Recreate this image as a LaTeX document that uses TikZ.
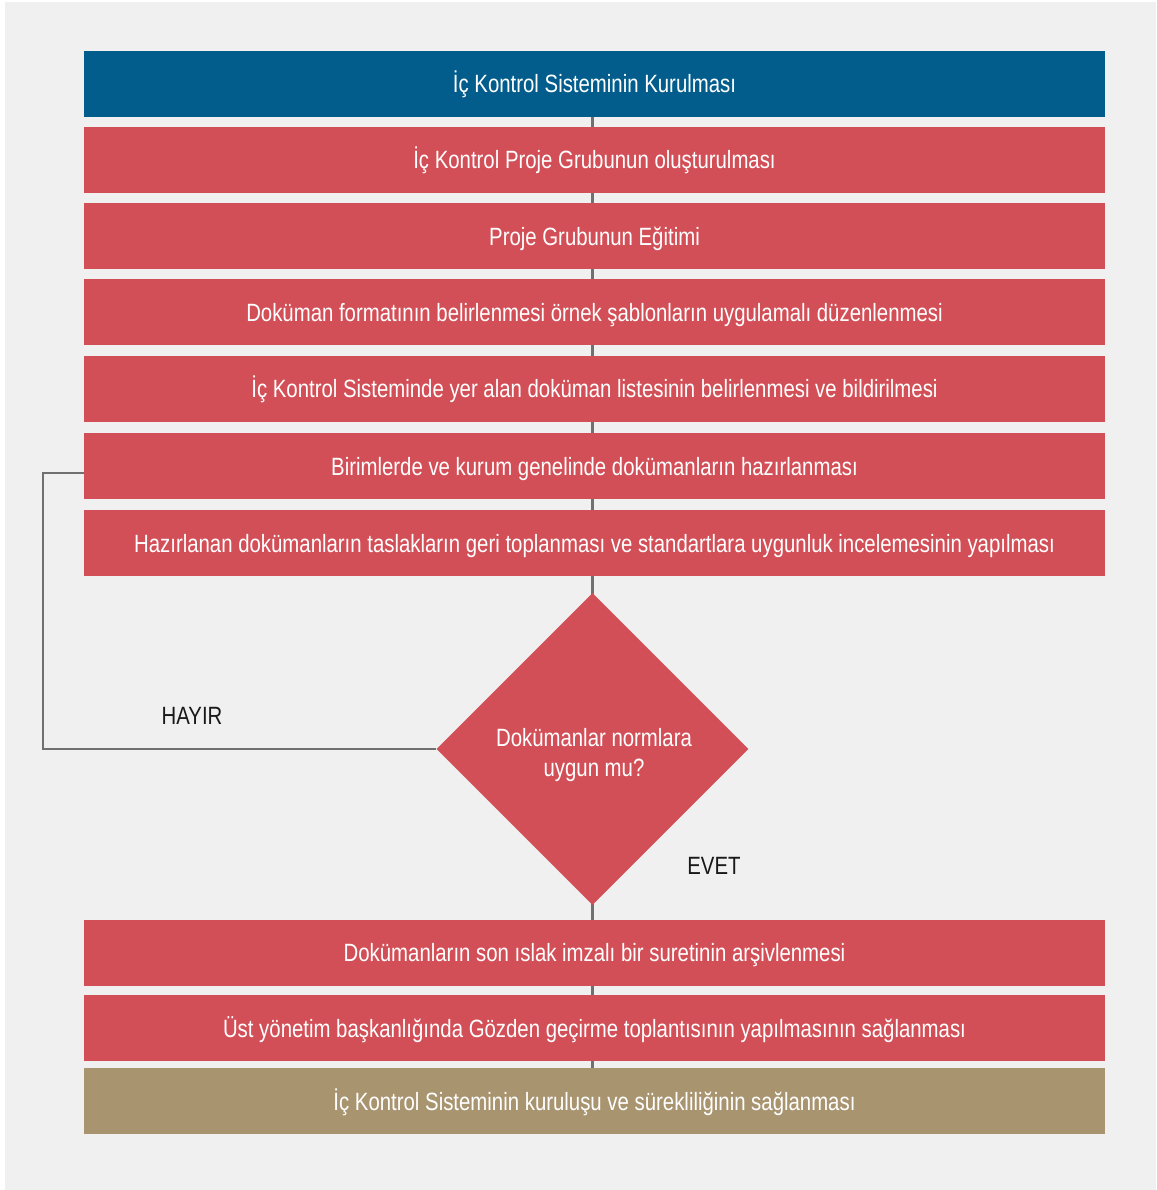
\documentclass[tikz,border=0pt]{standalone}
\usepackage{fontspec}
\setmainfont[FakeStretch=0.815]{Liberation Sans}
\usetikzlibrary{shapes.geometric}
\definecolor{panel}{HTML}{F0F0F0}
\definecolor{navy}{HTML}{025D8C}
\definecolor{brick}{HTML}{D34F57}
\definecolor{sand}{HTML}{A99470}
\definecolor{wire}{HTML}{707070}
\begin{document}
\begin{tikzpicture}[x=1pt,y=-1pt,
  stepbox/.style={rectangle,minimum width=1021pt,minimum height=66pt,inner sep=0pt,
    text height=23pt,text depth=5pt,
    text=white,font=\fontsize{25}{30}\selectfont},
  redbox/.style={stepbox,fill=brick},
  decision/.style={diamond,fill=brick,minimum width=312pt,minimum height=312pt,inner sep=0pt},
  question/.style={text=white,align=center,font=\fontsize{25}{29.5}\selectfont},
  conn/.style={draw=wire,line width=2.2pt},
  answer/.style={text=black!90,font=\fontsize{25}{30}\selectfont}]
% page and panel
\fill[white] (0,0) rectangle (1156,1190);
\fill[panel] (5,2) rectangle (1156,1190);
\useasboundingbox (0,0) rectangle (1156,1190);

% connectors first, boxes are filled over them
\coordinate (loop) at (43,600);
\coordinate (top) at (592.5,84);
\coordinate (bot) at (592.5,1101);
\draw[conn] (top) -- (592.5,749);
\draw[conn] (592.5,749) -- (bot);

% boxes
\node[stepbox,fill=navy] (b1) at (594.5,84) {İç Kontrol Sisteminin Kurulması};
\node[redbox] (b2) at (594.5,160) {İç Kontrol Proje Grubunun oluşturulması};
\node[redbox] (b3) at (594.5,236) {Proje Grubunun Eğitimi};
\node[redbox] (b4) at (594.5,312) {Doküman formatının belirlenmesi örnek şablonların uygulamalı düzenlenmesi};
\node[redbox] (b5) at (594.5,388.5) {İç Kontrol Sisteminde yer alan doküman listesinin belirlenmesi ve bildirilmesi};
\node[redbox] (b6) at (594.5,466) {Birimlerde ve kurum genelinde dokümanların hazırlanması};
\node[redbox] (b7) at (594.5,543) {Hazırlanan dokümanların taslakların geri toplanması ve standartlara uygunluk incelemesinin yapılması};
\node[decision] (dia) at (592.5,749) {};
\node[question] (q) at (594,755) {Dokümanlar normlara\\uygun mu?};
\node[redbox] (b8) at (594.5,952.5) {Dokümanların son ıslak imzalı bir suretinin arşivlenmesi};
\node[redbox] (b9) at (594.5,1028) {Üst yönetim başkanlığında Gözden geçirme toplantısının yapılmasının sağlanması};
\node[stepbox,fill=sand] (b10) at (594.5,1101) {İç Kontrol Sisteminin kuruluşu ve sürekliliğinin sağlanması};

% return path for the "no" answer
\draw[conn] ([yshift=-7pt]b6.west) -| (loop) |- (dia.west);

% answer labels
\node[answer] (no) at (192,716) {HAYIR};
\node[answer] (yes) at (714,866) {EVET};
\end{tikzpicture}
\end{document}
